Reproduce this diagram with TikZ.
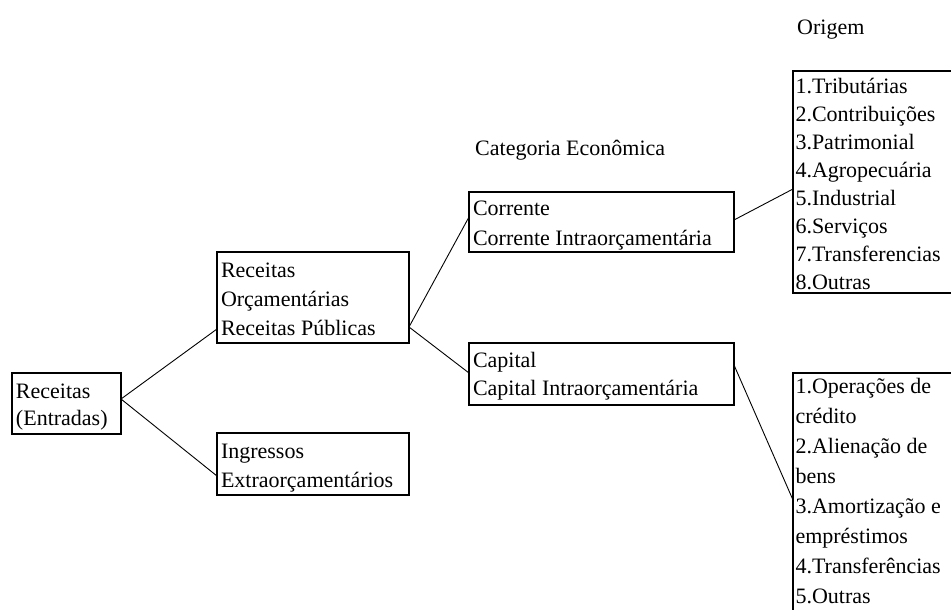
\documentclass[tikz,border=0pt]{standalone}
\usepackage{fontspec}
\setmainfont{Liberation Serif}

\begin{document}
\begin{tikzpicture}[x=1pt, y=-1pt,
  % framed text box: #1 = width, text set from the top-left corner
  catbox/.style={draw, line width=1.5pt, anchor=north west,
    inner xsep=4pt, inner ysep=0pt, outer sep=0pt, align=flush left,
    minimum width=#1, text width=#1-8pt},
  listbox/.style={draw, line width=1.5pt, anchor=north west,
    inner xsep=2.5pt, inner ysep=0pt, outer sep=0pt, align=flush left,
    minimum width=#1, text width=#1-5pt},
  lines/.style={font=\fontsize{22}{#1}\selectfont},
  heading/.style={anchor=base west, inner sep=0pt, font=\fontsize{22}{27}\selectfont},
  link/.style={line width=0.9pt}
]
\useasboundingbox (0,0) rectangle (951,610);

% level 0
\node[catbox=109pt, lines=27, text height=25pt, text depth=36pt]
  (re) at (12,373) {Receitas\\(Entradas)};

% level 1
\node[catbox=192pt, lines=29, text height=25pt, text depth=66pt]
  (ro) at (217,252) {Receitas\\Orçamentárias\\Receitas Públicas};
\node[catbox=192pt, lines=29, text height=25pt, text depth=37pt]
  (ie) at (217,433) {Ingressos\\Extraorçamentários};

% level 2: economic category
\node[heading] (hcat) at (475,155) {Categoria Econômica};
\node[catbox=265pt, lines=30, text height=23pt, text depth=37pt]
  (co) at (469,192) {Corrente\\Corrente Intraorçamentária};
\node[catbox=265pt, lines=28, text height=24pt, text depth=38pt]
  (ca) at (469,343) {Capital\\Capital Intraorçamentária};

% level 3: origin
\node[heading] (hori) at (797,35) {Origem};
\node[listbox=168pt, lines=28, text height=23pt, text depth=199pt]
  (or) at (793,71) {1.Tributárias\\2.Contribuições\\3.Patrimonial\\4.Agropecuária\\5.Industrial\\6.Serviços\\7.Transferencias\\8.Outras};
\node[listbox=168pt, lines=30, text height=20pt, text depth=240pt]
  (op) at (793,373) {1.Operações de\\crédito\\2.Alienação de\\bens\\3.Amortização e\\empréstimos\\4.Transferências\\5.Outras};

% connectors
\draw[link] ([yshift=-26pt]re.north east) -- ([yshift=-77pt]ro.north west);
\draw[link] ([yshift=-26pt]re.north east) -- ([yshift=-43pt]ie.north west);
\draw[link] ([yshift=-75pt]ro.north east) -- ([yshift=-25pt]co.north west);
\draw[link] ([yshift=-75pt]ro.north east) -- ([yshift=-30pt]ca.north west);
\draw[link] ([yshift=-28pt]co.north east) -- ([yshift=-118pt]or.north west);
\draw[link] ([yshift=-22pt]ca.north east) -- ([yshift=-127pt]op.north west);
\end{tikzpicture}
\end{document}
